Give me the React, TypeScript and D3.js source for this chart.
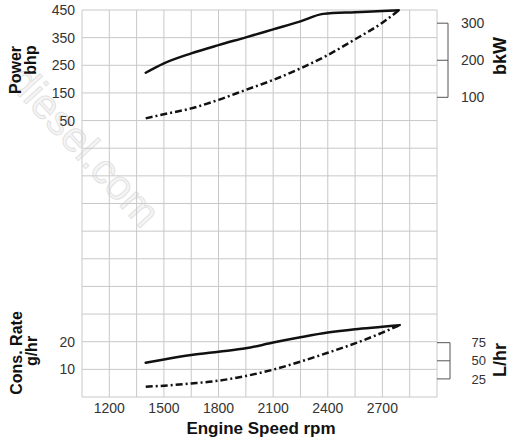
import * as d3 from "d3";

// grid: 13 columns of 150 rpm, 14 rows
const rpmDomain = [1050, 3000];
const rpmTicks = [1200, 1500, 1800, 2100, 2400, 2700];
const powerTicks = [450, 350, 250, 150, 50];
const consTicks = [20, 10];
const kwTicks = [300, 200, 100];
const litreTicks = [75, 50, 25];

const powerRpm = [1400, 1500, 1650, 1800, 1950, 2100, 2250, 2375, 2550, 2700, 2790];
const powerMax = [223, 257, 293, 323, 351, 380, 409, 436, 442, 446, 449];
const powerCurveRpm = [1400, 1500, 1650, 1800, 1950, 2100, 2250, 2400, 2550, 2700, 2790];
const powerCurve = [58, 73, 94, 125, 161, 197, 239, 287, 344, 404, 449];

const consRpm = [1400, 1500, 1650, 1800, 1950, 2100, 2250, 2400, 2550, 2700, 2795];
const consMax = [12.4, 13.6, 15.2, 16.4, 17.6, 19.7, 21.6, 23.3, 24.5, 25.4, 26.0];
const consCurve = [3.7, 4.1, 4.9, 5.9, 7.6, 9.9, 12.8, 16.0, 19.4, 23.3, 26.0];

const KW_TO_BHP = 1.341;
const LITRE_TO_CONS = 0.262;

const W = 515;
const H = 439;
const left = 82;
const right = 437;
const top = 10;
const bottom = 397;

const font = "'Liberation Sans', Arial, Helvetica, sans-serif";
const gridColor = "#c8c8c8";

export default function App() {
  const x = d3.scaleLinear().domain(rpmDomain).range([left, right]);
  const yPower = d3.scaleLinear().domain([-950, 450]).range([bottom, top]);
  const yCons = d3.scaleLinear().domain([0, 140]).range([bottom, top]);

  const vGrid = d3.range(rpmDomain[0], rpmDomain[1] + 1, 150);
  const hGrid = d3.range(0, 141, 10);

  const powerLine = (xs: number[], ys: number[]) =>
    d3
      .line<number>()
      .x((_, i) => x(xs[i]))
      .y((d) => yPower(d))
      .curve(d3.curveMonotoneX)(ys) as string;

  const consLine = (xs: number[], ys: number[]) =>
    d3
      .line<number>()
      .x((_, i) => x(xs[i]))
      .y((d) => yCons(d))
      .curve(d3.curveMonotoneX)(ys) as string;

  const kwX0 = right;
  const kwX1 = 448;
  const lX1 = 450;

  return (
    <svg
      width={W}
      height={H}
      style={{ position: "absolute", left: 0, top: 0, background: "#fff" }}
      fontFamily={font}
    >
      {/* watermark */}
      <text
        transform="translate(6,82) rotate(47.5)"
        fontSize={42}
        fill="#f4f4f4"
        stroke="#dedede"
        strokeWidth={0.8}
      >
        diesel.com
      </text>

      {/* grid */}
      <g stroke={gridColor} strokeWidth={1}>
        {vGrid.map((v) => (
          <line key={"v" + v} x1={x(v)} x2={x(v)} y1={top} y2={bottom} />
        ))}
        {hGrid.map((v) => (
          <line key={"h" + v} x1={left} x2={right} y1={yCons(v)} y2={yCons(v)} />
        ))}
      </g>

      {/* curves */}
      <g fill="none" stroke="#111" strokeWidth={2.5} strokeLinecap="round">
        <path d={powerLine(powerRpm, powerMax)} />
        <path d={powerLine(powerCurveRpm, powerCurve)} strokeDasharray="7,3,2,3" strokeLinecap="butt" />
        <path d={consLine(consRpm, consMax)} />
        <path d={consLine(consRpm, consCurve)} strokeDasharray="7,3,2,3" strokeLinecap="butt" />
      </g>

      {/* left tick labels */}
      <g fontSize={14} fill="#333" textAnchor="end">
        {powerTicks.map((t) => (
          <text key={"p" + t} x={75} y={yPower(t)} dy="0.36em">
            {t}
          </text>
        ))}
        {consTicks.map((t) => (
          <text key={"c" + t} x={75} y={yCons(t)} dy="0.36em">
            {t}
          </text>
        ))}
      </g>

      {/* bottom tick labels */}
      <g fontSize={14} fill="#333" textAnchor="middle">
        {rpmTicks.map((t) => (
          <text key={"r" + t} x={x(t)} y={413}>
            {t}
          </text>
        ))}
      </g>

      {/* secondary unit brackets */}
      <g stroke="#555" strokeWidth={1} fill="none">
        {kwTicks.map((t) => (
          <line
            key={"kw" + t}
            x1={kwX0}
            x2={kwX1}
            y1={yPower(t * KW_TO_BHP)}
            y2={yPower(t * KW_TO_BHP)}
          />
        ))}
        <line
          x1={kwX1}
          x2={kwX1}
          y1={yPower(kwTicks[0] * KW_TO_BHP)}
          y2={yPower(kwTicks[kwTicks.length - 1] * KW_TO_BHP)}
        />
        {litreTicks.map((t) => (
          <line
            key={"l" + t}
            x1={kwX0}
            x2={lX1}
            y1={yCons(t * LITRE_TO_CONS)}
            y2={yCons(t * LITRE_TO_CONS)}
          />
        ))}
        <line
          x1={lX1}
          x2={lX1}
          y1={yCons(litreTicks[0] * LITRE_TO_CONS)}
          y2={yCons(litreTicks[litreTicks.length - 1] * LITRE_TO_CONS)}
        />
      </g>
      <g fontSize={14} fill="#333">
        {kwTicks.map((t) => (
          <text key={"kwt" + t} x={461} y={yPower(t * KW_TO_BHP)} dy="0.36em">
            {t}
          </text>
        ))}
        {litreTicks.map((t) => (
          <text
            key={"lt" + t}
            x={486}
            y={yCons(t * LITRE_TO_CONS)}
            dy="0.36em"
            textAnchor="end"
            fontSize={13}
          >
            {t}
          </text>
        ))}
      </g>

      {/* axis titles */}
      <g fontWeight="bold" fill="#111" textAnchor="middle">
        <text transform="translate(21,70) rotate(-90)" fontSize={16}>
          Power
        </text>
        <text transform="translate(36,60) rotate(-90)" fontSize={16}>
          bhp
        </text>
        <text transform="translate(22,353) rotate(-90)" fontSize={16}>
          Cons. Rate
        </text>
        <text transform="translate(37,351) rotate(-90)" fontSize={16}>
          g/hr
        </text>
        <text transform="translate(506,56) rotate(-90)" fontSize={18}>
          bkW
        </text>
        <text transform="translate(506,360) rotate(-90)" fontSize={18}>
          L/hr
        </text>
        <text x={261} y={434} fontSize={17}>
          Engine Speed rpm
        </text>
      </g>
    </svg>
  );
}
